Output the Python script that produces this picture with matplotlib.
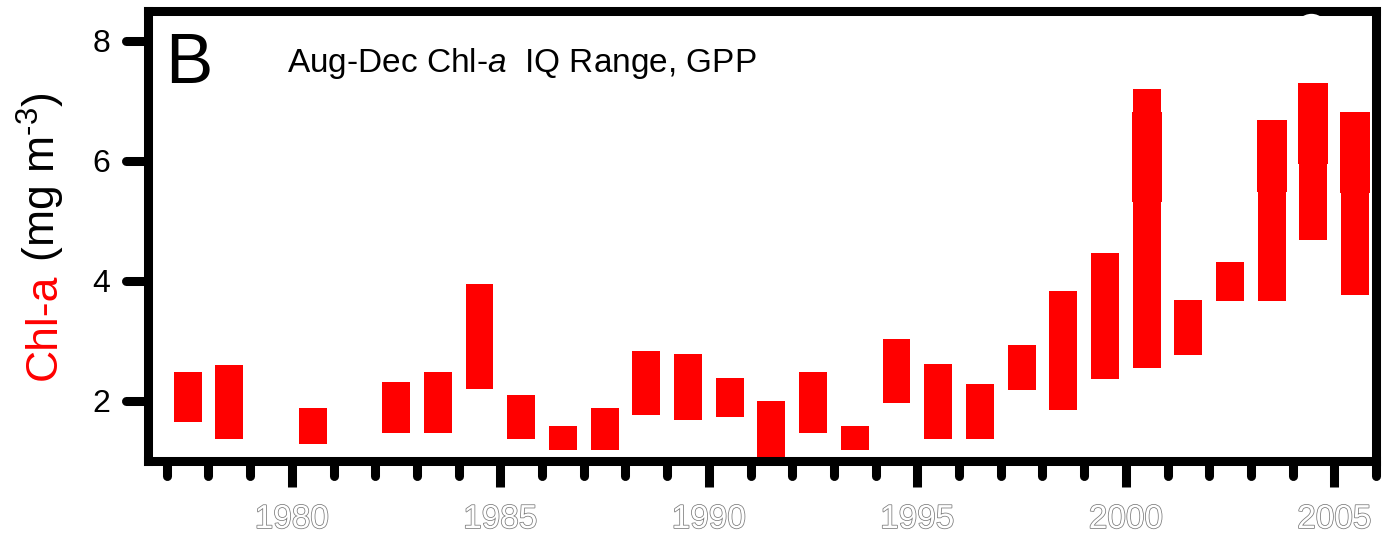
import matplotlib
matplotlib.use("Agg")
import matplotlib.pyplot as plt
import matplotlib.lines as mlines
import matplotlib.patheffects as pe
from matplotlib.markers import MarkerStyle
from matplotlib.ticker import FixedLocator, MultipleLocator

plt.rcParams['font.family'] = ['Liberation Sans', 'DejaVu Sans']
plt.rcParams['mathtext.fontset'] = 'custom'
plt.rcParams['mathtext.rm'] = 'Liberation Sans'
plt.rcParams['mathtext.it'] = 'Liberation Sans:italic'
plt.rcParams['mathtext.bf'] = 'Liberation Sans:bold'

# ---- data (Aug-Dec Chl-a interquartile range per year) ----
years = [1977, 1978, 1980, 1982, 1983, 1984, 1985, 1986, 1987, 1988, 1989,
         1990, 1991, 1992, 1993, 1994, 1995, 1996, 1997, 1998, 1999, 2000,
         2001, 2002, 2003, 2004, 2005]
iqr_low = [1.65, 1.37, 1.28, 1.47, 1.47, 2.20, 1.37, 1.18, 1.18, 1.77, 1.68,
           1.73, 0.97, 1.47, 1.18, 1.97, 1.37, 1.37, 2.18, 1.85, 2.37, 2.55,
           2.77, 3.67, 3.67, 4.68, 3.76]
iqr_high = [2.48, 2.60, 1.89, 2.32, 2.49, 3.95, 2.10, 1.59, 1.89, 2.84, 2.79,
            2.39, 2.00, 2.49, 1.59, 3.04, 2.62, 2.28, 2.94, 3.83, 4.47, 7.20,
            3.69, 4.32, 6.68, 7.30, 6.82]
# slightly wider overlapping pieces on the upper part of late bars
overlay_years = [2000, 2003, 2004, 2005]
overlay_low = [5.32, 5.49, 5.95, 5.46]
overlay_high = [6.82, 6.68, 7.30, 6.82]
# white masking marker near the top-right corner
mask_x = [2004.44]
mask_y = [8.18]

major_years = [1980, 1985, 1990, 1995, 2000, 2005]
y_ticks = [2, 4, 6, 8]

W, H = 1383, 535
fig = plt.figure(figsize=(W / 100, H / 100), dpi=100)
fig.patch.set_facecolor('white')
L, R, T, B = 148, 1376, 11, 461
ax = fig.add_axes([L / W, 1 - B / H, (R - L) / W, (B - T) / H])

xpos = [y + 0.5 for y in years]
heights = [h - l for l, h in zip(iqr_low, iqr_high)]
ax.bar(xpos, heights, bottom=iqr_low, width=0.67, color='#ff0000',
       linewidth=0, zorder=2)
ox = [y + 0.5 for y in overlay_years]
oh = [h - l for l, h in zip(overlay_low, overlay_high)]
ax.bar(ox, oh, bottom=overlay_low, width=0.72, color='#ff0000',
       linewidth=0, zorder=2)

ax.set_xlim(1976.55, 2006.0)
ax.set_ylim(1.0, 8.5)

for s in ax.spines.values():
    s.set_linewidth(6.5)
    s.set_capstyle('projecting')
    s.set_zorder(3)

ax.plot(mask_x, mask_y, 'o', ms=24, mfc='white', mec='white', mew=0,
        clip_on=False, zorder=5)

ax.yaxis.set_major_locator(FixedLocator(y_ticks))
ax.xaxis.set_major_locator(FixedLocator(major_years))
ax.xaxis.set_minor_locator(MultipleLocator(1))
ax.set_xticklabels([str(y) for y in major_years])

ax.tick_params(axis='y', which='major', length=16, width=6.5, pad=11,
               labelsize=23, color='black')
ax.tick_params(axis='x', which='major', length=19, width=6.5, pad=12,
               labelsize=24, labelcolor='white')
ax.tick_params(axis='x', which='minor', length=11, width=6.5)

# Panel letter and title
fig.text(165 / W, 1 - 83 / H, 'B', fontsize=51, va='baseline', ha='left')
fig.text(287 / W, 1 - 72 / H, r'Aug-Dec Chl-$\mathit{a}$  IQ Range, GPP',
         fontsize=24, va='baseline', ha='left')

# Two-colour y label
xb = 56 / W
t1 = fig.text(xb, 0.5, 'Chl-a', color='#ff0000', fontsize=32, rotation=90,
              rotation_mode='anchor', ha='right', va='baseline')
t2 = fig.text(xb, 0.5, r' (mg m$^{\text{-3}}$)', color='black', fontsize=32,
              rotation=90, rotation_mode='anchor', ha='left', va='baseline')

fig.canvas.draw()
r = fig.canvas.get_renderer()
b1 = t1.get_window_extent(r)
b2 = t2.get_window_extent(r)
lo = min(b1.y0, b2.y0)
hi = max(b1.y1, b2.y1)
target = (1 - 236 / H) * H
shift = (target - (lo + hi) / 2) / H
t1.set_y(0.5 + shift)
t2.set_y(0.5 + shift)

# rounded tick ends, hollow year labels
for tk in ax.yaxis.get_major_ticks():
    tk.tick1line.set_marker(MarkerStyle(mlines.TICKLEFT, capstyle='round'))
for tk in ax.xaxis.get_minor_ticks():
    tk.tick1line.set_marker(MarkerStyle(mlines.TICKDOWN, capstyle='round'))
for lbl in ax.get_xticklabels():
    lbl.set_color('white')
    lbl.set_path_effects([pe.withStroke(linewidth=1.1, foreground='#7a7a7a')])

fig.savefig('out.png', dpi=100, facecolor='white')
